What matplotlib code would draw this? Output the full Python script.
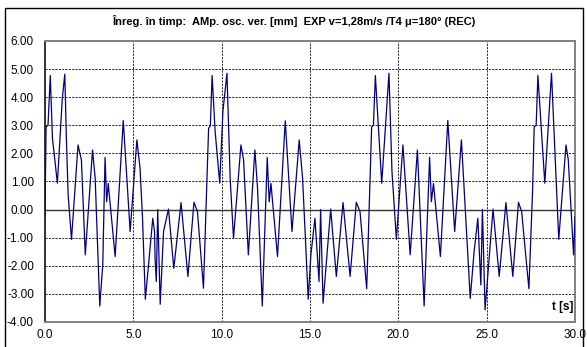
import matplotlib
matplotlib.use("Agg")
import matplotlib.pyplot as plt
from matplotlib.patches import Rectangle

# time [s] and vertical oscillation amplitude [mm]
t = [0.00, 0.06, 0.17, 0.30, 0.42, 0.70, 0.98, 1.12, 1.21, 1.31, 1.50,
     1.87, 2.06, 2.28, 2.69, 2.84, 3.10, 3.27, 3.40, 3.49, 3.58, 3.97,
     4.43, 4.82, 5.20, 5.38, 5.52, 5.68, 5.86, 6.10, 6.20, 6.23, 6.30,
     6.38, 6.52, 6.71, 6.99, 7.29, 7.70, 8.09, 8.43, 8.63, 8.97, 9.26,
     9.36, 9.46, 9.63, 9.89, 10.07, 10.30, 10.48, 10.67, 11.09, 11.24,
     11.51, 11.88, 12.03, 12.30, 12.58, 12.69, 12.79, 13.16, 13.60, 13.98,
     14.39, 14.58, 14.90, 15.05, 15.28, 15.51, 15.60, 15.74, 16.17, 16.49,
     16.87, 17.27, 17.62, 17.83, 18.21, 18.49, 18.59, 18.70, 19.06, 19.47,
     19.64, 19.89, 20.26, 20.67, 21.08, 21.46, 21.77, 21.87, 21.99, 22.38,
     22.80, 23.19, 23.57, 24.07, 24.29, 24.50, 24.67, 24.76, 24.91, 25.36,
     25.71, 26.09, 26.48, 26.80, 26.98, 27.39, 27.60, 27.69, 27.80, 27.90,
     28.29, 28.67, 29.08, 29.49, 29.62, 29.92, 30.00]
amp = [-0.25, 2.95, 3.00, 4.77, 2.55, 0.94, 3.96, 4.82, 2.54, 0.52, -1.06,
       2.30, 1.77, -1.61, 2.12, 1.12, -3.43, -1.97, 1.86, 0.28, 0.93, -1.67,
       3.17, -0.78, 2.48, 1.47, -0.31, -3.19, -1.97, -0.31, -0.78, -1.73, -2.56,
       0.00, -3.37, -0.78, 0.02, -2.09, 0.25, -2.38, 0.26, -0.07, -2.80, 2.89,
       2.99, 4.77, 2.78, 0.94, 3.49, 4.85, 1.12, -1.02, 2.30, 1.77,
       -1.61, 2.12, 0.76, -3.43, 1.86, 0.28, 0.93, -1.67, 3.16, -0.78,
       2.48, 1.12, -3.19, -1.61, -0.31, -2.56, 0.00, -3.33, 0.02, -2.38,
       0.25, -2.38, 0.26, -0.07, -2.82, 2.95, 3.00, 4.77, 0.94, 4.85,
       1.35, -1.06, 2.30, -1.61, 2.12, -3.43, 1.86, 0.28, 0.93, -1.67,
       3.17, -0.78, 2.48, -3.16, -1.49, -0.31, -2.68, 0.00, -3.57, 0.02,
       -2.38, 0.25, -2.38, 0.26, -0.07, -2.82, 0.70, 2.95, 2.99, 4.77,
       0.94, 4.85, -1.06, 2.30, 1.77, -1.61, -0.25]

xticks = [0, 5, 10, 15, 20, 25, 30]
yticks = [-4, -3, -2, -1, 0, 1, 2, 3, 4, 5, 6]

title = "Înreg. în timp:  AMp. osc. ver. [mm]  EXP v=1,28m/s /T4 μ=180° (REC)"

plt.rcParams["font.family"] = ["Liberation Sans", "DejaVu Sans"]

fig = plt.figure(figsize=(5.87, 3.47), dpi=100)
ax = fig.add_axes([45 / 587, 1 - 322 / 347, 530 / 587, 281 / 347])

ax.plot(t, amp, color="#000080", lw=0.9, zorder=3)
ax.axhline(0, color="#333333", lw=1.0, zorder=2)

ax.set_xlim(0, 30)
ax.set_ylim(-4, 6)
ax.set_xticks(xticks)
ax.set_xticklabels([f"{v:.1f}" for v in xticks])
ax.set_yticks(yticks)
ax.set_yticklabels([f"{v:.2f}" for v in yticks])
ax.tick_params(axis="y", length=0, labelsize=8.5, pad=8)
ax.tick_params(axis="x", length=0, labelsize=8.5, pad=5)

ax.grid(True, color="black", ls=(0, (2.5, 1.5)), lw=0.6, zorder=1)

for side in ["top", "right", "bottom"]:
    ax.spines[side].set_color("#808080")
    ax.spines[side].set_linestyle((0, (1, 1)))
    ax.spines[side].set_linewidth(1.4)
ax.spines["left"].set_color("#333333")
ax.spines["left"].set_linewidth(1.4)

ax.text(29.9, -3.45, "t [s]", ha="right", va="center",
        fontsize=8.5, fontweight="bold")

fig.text(294 / 587, 1 - 21 / 347, title, ha="center", va="center",
         fontsize=8, fontweight="bold")

# outer chart frame
fig.add_artist(Rectangle((5 / 587, -0.05), 578 / 587, 1.05 - 8 / 347,
                         transform=fig.transFigure, fill=False,
                         ec="black", lw=1.0))

fig.savefig("out.png", dpi=100)
